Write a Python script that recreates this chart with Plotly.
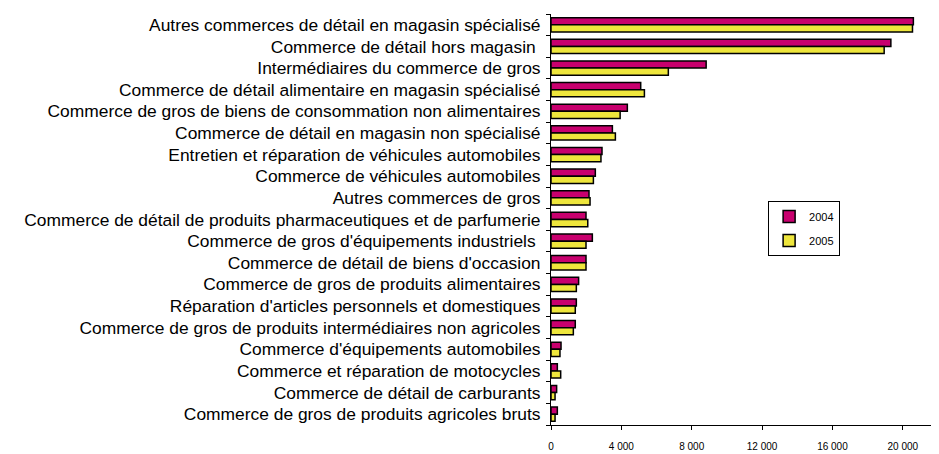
import plotly.graph_objects as go

categories = [
    "Autres commerces de détail en magasin spécialisé",
    "Commerce de détail hors magasin ",
    "Intermédiaires du commerce de gros",
    "Commerce de détail alimentaire en magasin spécialisé",
    "Commerce de gros de biens de consommation non alimentaires",
    "Commerce de détail en magasin non spécialisé",
    "Entretien et réparation de véhicules automobiles",
    "Commerce de véhicules automobiles",
    "Autres commerces de gros",
    "Commerce de détail de produits pharmaceutiques et de parfumerie",
    "Commerce de gros d'équipements industriels ",
    "Commerce de détail de biens d'occasion",
    "Commerce de gros de produits alimentaires",
    "Réparation d'articles personnels et domestiques",
    "Commerce de gros de produits intermédiaires non agricoles",
    "Commerce d'équipements automobiles",
    "Commerce et réparation de motocycles",
    "Commerce de détail de carburants",
    "Commerce de gros de produits agricoles bruts",
]
values_2004 = [20600, 19320, 8820, 5100, 4340, 3490, 2900, 2520, 2160, 1990,
               2350, 1990, 1570, 1440, 1380, 570, 360, 320, 360]
values_2005 = [20550, 18940, 6670, 5310, 3930, 3660, 2840, 2410, 2220, 2090,
               1990, 1990, 1440, 1380, 1270, 510, 550, 230, 230]
tick_vals = [0, 4000, 8000, 12000, 16000, 20000]
tick_text = ["0", "4 000", "8 000", "12 000", "16 000", "20 000"]

fig = go.Figure()
fig.add_trace(go.Bar(y=categories, x=values_2004, orientation="h", name="2004",
                     legendgroup="a",
                     marker=dict(color="#C8006E", line=dict(color="black", width=1.5))))
fig.add_trace(go.Bar(y=categories, x=values_2005, orientation="h", name="2005",
                     legendgroup="b",
                     marker=dict(color="#EEE63C", line=dict(color="black", width=1.5))))

fig.update_layout(
    width=931, height=446,
    margin=dict(l=543, r=1, t=6, b=29),
    paper_bgcolor="white", plot_bgcolor="white",
    barmode="group", bargap=0.34, bargroupgap=0.0,
    font=dict(family="Liberation Sans, Arial", color="black"),
    legend=dict(x=0.561, y=0.545, xanchor="left", yanchor="top",
                bordercolor="black", borderwidth=1, bgcolor="white",
                font=dict(size=11), traceorder="grouped", tracegroupgap=5,
                itemwidth=30),
    showlegend=True,
)
fig.update_xaxes(range=[0, 22000], tickvals=tick_vals, ticktext=tick_text,
                 showgrid=False, zeroline=False, showline=True, linecolor="black",
                 linewidth=1, ticks="outside", ticklen=4, tickcolor="black",
                 tickfont=dict(size=10), ticklabelstandoff=8, automargin=False)
fig.update_yaxes(autorange="reversed", showgrid=False, showline=True,
                 linecolor="black", linewidth=1, ticks="outside", ticklen=4,
                 tickcolor="black", tickson="boundaries", tickfont=dict(size=17.4),
                 tickmode="array", tickvals=categories, ticktext=categories,
                 ticklabelstandoff=6, automargin=False)

fig.write_html("out.html")
